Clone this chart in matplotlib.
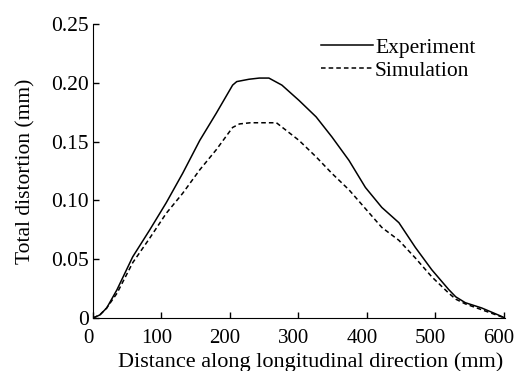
import matplotlib.pyplot as plt
import matplotlib.transforms as mtransforms

# Data
exp_x = [0, 10, 20, 35, 58, 83, 107, 131, 156, 180, 204, 210, 228, 243, 257,
         276, 301, 326, 349, 374, 398, 422, 447, 471, 495, 520, 530, 544,
         568, 592, 602]
exp_y = [0.0, 0.0026, 0.0085, 0.024, 0.052, 0.075, 0.098, 0.123, 0.151,
         0.174, 0.198, 0.201, 0.203, 0.204, 0.204, 0.198, 0.185, 0.171,
         0.154, 0.134, 0.111, 0.094, 0.081, 0.060, 0.041, 0.024, 0.018,
         0.013, 0.0085, 0.0026, 0.0]

sim_x = [0, 10, 20, 35, 58, 83, 107, 131, 156, 180, 204, 214, 230, 250,
         268, 301, 326, 349, 374, 398, 422, 447, 471, 495, 520, 530, 544,
         568, 592, 602]
sim_y = [0.0, 0.0026, 0.0085, 0.021, 0.047, 0.068, 0.089, 0.106, 0.126,
         0.143, 0.162, 0.165, 0.166, 0.166, 0.166, 0.151, 0.137, 0.123,
         0.109, 0.093, 0.077, 0.066, 0.051, 0.035, 0.021, 0.016, 0.012,
         0.007, 0.002, 0.0]

xticks = [0, 100, 200, 300, 400, 500, 600]
yticks = [0, 0.05, 0.10, 0.15, 0.20, 0.25]
ytick_labels = ['0', '0.05', '0.10', '0.15', '0.20', '0.25']

plt.rcParams['font.family'] = 'Liberation Serif'
plt.rcParams['font.size'] = 14

fig = plt.figure(figsize=(5.15, 3.71), dpi=100)
ax = fig.add_axes([0.1806, 0.1429, 0.80, 0.7925])

ax.plot(exp_x, exp_y, color='black', lw=1.1, label='Experiment')
ax.plot(sim_x, sim_y, color='black', lw=1.1, ls=(0, (3, 2)), label='Simulation')

ax.set_xlim(0, 602)
ax.set_ylim(0, 0.25)
ax.set_xticks(xticks)
ax.set_yticks(yticks)
ax.set_yticklabels(ytick_labels)
ax.tick_params(direction='in', length=4, width=1, pad=2)
ax.tick_params(axis='x', labelsize=15, pad=8)
ax.tick_params(axis='y', labelsize=15.5, pad=3)

# x tick labels sit a little left of their ticks in the original
shift = mtransforms.ScaledTranslation(-5 / 100, 0, fig.dpi_scale_trans)
for lab in ax.get_xticklabels():
    lab.set_transform(lab.get_transform() + shift)

ax.spines['top'].set_visible(False)
ax.spines['right'].set_visible(False)

ax.set_xlabel('Distance along longitudinal direction (mm)', fontsize=16)
ax.xaxis.set_label_coords(0.527, -0.117)
ax.set_ylabel('Total distortion (mm)', fontsize=15.5, labelpad=11)

ax.legend(loc='upper right', bbox_to_anchor=(0.975, 1.02), frameon=False,
          fontsize=15.5, handlelength=2.4, handletextpad=0.1, labelspacing=0.15)

fig.savefig('out.png', dpi=100)
